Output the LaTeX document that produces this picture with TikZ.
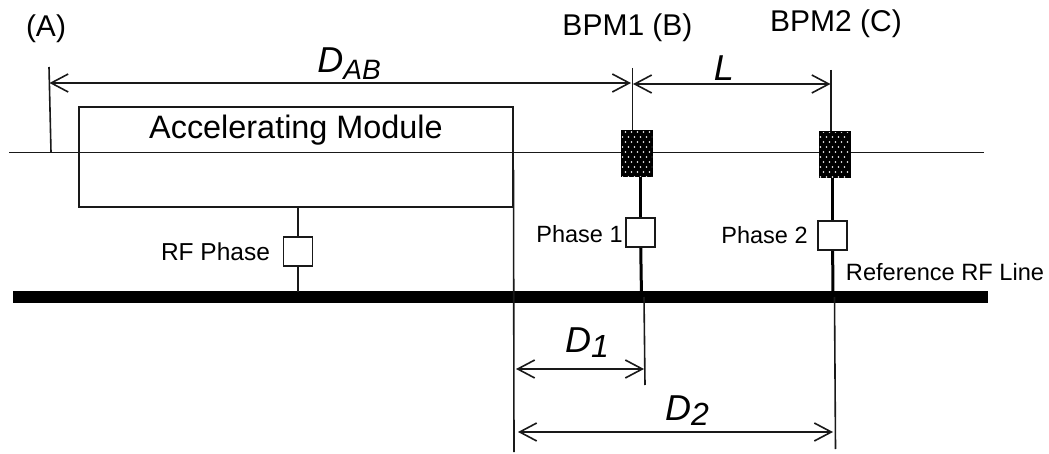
\documentclass[tikz,border=0pt]{standalone}
\usepackage{fontspec}
\setmainfont{Liberation Sans}
\usetikzlibrary{arrows.meta,patterns}
\pgfdeclarepatternformonly{bpmdots}{\pgfqpoint{-1pt}{-1pt}}{\pgfqpoint{6pt}{10pt}}{\pgfqpoint{6pt}{10pt}}{%
    \pgfpathcircle{\pgfqpoint{1.5pt}{2pt}}{0.9pt}
    \pgfpathcircle{\pgfqpoint{4.5pt}{7pt}}{0.9pt}
    \pgfusepath{fill}
}
\tikzset{
    thinline/.style={line width=1.6pt, color=black!90},
    thickline/.style={line width=3pt, color=black},
    dimline/.style={line width=1.6pt, color=black!90, {Straight Barb[length=17pt,width=18pt]}-{Straight Barb[length=17pt,width=18pt]}},
    phasebox/.style={draw=black!90, line width=1.6pt, fill=white, inner sep=0pt, minimum width=29pt, minimum height=29pt},
    bpmbox/.style={draw=black, line width=1pt, fill=black, inner sep=0pt, minimum width=31pt, minimum height=46pt},
    label/.style={inner sep=0pt, color=black},
}
\newcommand{\biglabel}{\fontsize{30}{30}\selectfont}
\newcommand{\smalllabel}{\fontsize{23.5}{24}\selectfont}
\newcommand{\dimsize}{\fontsize{36}{36}\selectfont\itshape}
\begin{document}
\begin{tikzpicture}[x=1pt, y=-1pt]
    \useasboundingbox (0,0) rectangle (1049,454);
    % beam line and RF line
    \coordinate (beamL) at (9,152.5);
    \coordinate (beamR) at (984,152.5);
    \coordinate (refL) at (13,297);
    \coordinate (refR) at (988,297);
    \draw[thinline] (beamL) -- (beamR);
    \draw[line width=12pt, color=black] (refL) -- (refR);
    % module
    \node[draw=black!90, line width=1.6pt, inner sep=0pt, minimum width=434pt, minimum height=100pt] (module) at (296,157) {};
    \node[label] (modtext) at (296,130) {\fontsize{32.4}{33}\selectfont Accelerating Module};
    \node[phasebox] (rfbox) at (298,251.5) {};
    \coordinate (rftop) at (298,207);
    \coordinate (rfbot) at (298,292);
    \draw[thinline] (rftop) -- (rfbox);
    \draw[thinline] (rfbox) -- (rfbot);
    \node[label] (rftext) at (215.5,252) {\fontsize{24.5}{25}\selectfont RF Phase};
    % BPM 1
    \node[bpmbox] (bpmA) at (637,154) {};
    \fill[pattern=bpmdots, pattern color=white] ([shift={(1,-1)}]bpmA.south west) rectangle ([shift={(-1,1)}]bpmA.north east);
    \node[phasebox] (phaseA) at (640.5,232.5) {};
    \coordinate (bpmAtop) at (632.5,68);
    \coordinate (refA) at (641.5,297);
    \coordinate (lowAtop) at (644,297);
    \coordinate (lowAbot) at (645,385);
    \draw[thinline] (bpmAtop) -- (bpmA.north -| bpmAtop);
    \draw[thickline] (bpmA.south -| phaseA) -- (phaseA);
    \draw[thickline] (phaseA) -- (refA);
    \draw[thinline] (lowAtop) -- (lowAbot);
    \node[label] (phaseAtext) at (579.5,234) {\smalllabel Phase 1};
    % BPM 2
    \node[bpmbox] (bpmB) at (834.5,155) {};
    \fill[pattern=bpmdots, pattern color=white] ([shift={(1,-1)}]bpmB.south west) rectangle ([shift={(-1,1)}]bpmB.north east);
    \node[phasebox] (phaseB) at (832.5,235.5) {};
    \coordinate (bpmBtop) at (831,70);
    \coordinate (refB) at (833,297);
    \coordinate (lowBtop) at (834.5,297);
    \coordinate (lowBbot) at (835.5,449);
    \draw[thinline] (bpmBtop) -- (bpmB.north -| bpmBtop);
    \draw[thickline] (bpmB.south -| phaseB) -- (phaseB);
    \draw[thickline] (phaseB) -- (refB);
    \draw[thinline] (lowBtop) -- (lowBbot);
    \node[label] (phaseBtext) at (764.5,235) {\smalllabel Phase 2};
    \node[label] (reftext) at (945,272) {\fontsize{23.6}{24}\selectfont Reference RF Line};
    % reference lines
    \coordinate (tickAtop) at (49,67);
    \coordinate (tickAbot) at (51,152);
    \coordinate (modtop) at (513.5,170);
    \coordinate (modbot) at (514,452);
    \draw[thinline] (tickAtop) -- (tickAbot);
    \draw[thinline] (modtop) -- (modbot);
    % dimensions
    \coordinate (dabL) at (49.5,83);
    \coordinate (dabR) at (631,83);
    \coordinate (lenL) at (633,84);
    \coordinate (lenR) at (830.5,84);
    \coordinate (doneL) at (516,369);
    \coordinate (doneR) at (644,369);
    \coordinate (dtwoL) at (518,432);
    \coordinate (dtwoR) at (833,432);
    \draw[dimline] (dabL) -- (dabR);
    \draw[dimline] (lenL) -- (lenR);
    \draw[dimline] (doneL) -- (doneR);
    \draw[dimline] (dtwoL) -- (dtwoR);
    % labels
    \node[label] (atext) at (46,29) {\biglabel (A)};
    \node[label] (btext) at (627.5,28) {\biglabel BPM1 (B)};
    \node[label] (ctext) at (836,24) {\biglabel BPM2 (C)};
    \node[label] (dab) at (349,64) {\dimsize D\raisebox{-7pt}{\fontsize{28}{28}\selectfont AB}};
    \node[label] (len) at (724,68) {\dimsize L};
    \node[label] (done) at (587,343) {\dimsize D\raisebox{-5pt}{\fontsize{32}{32}\selectfont 1}};
    \node[label] (dtwo) at (687,411) {\dimsize D\raisebox{-5pt}{\fontsize{32}{32}\selectfont 2}};
\end{tikzpicture}
\end{document}
